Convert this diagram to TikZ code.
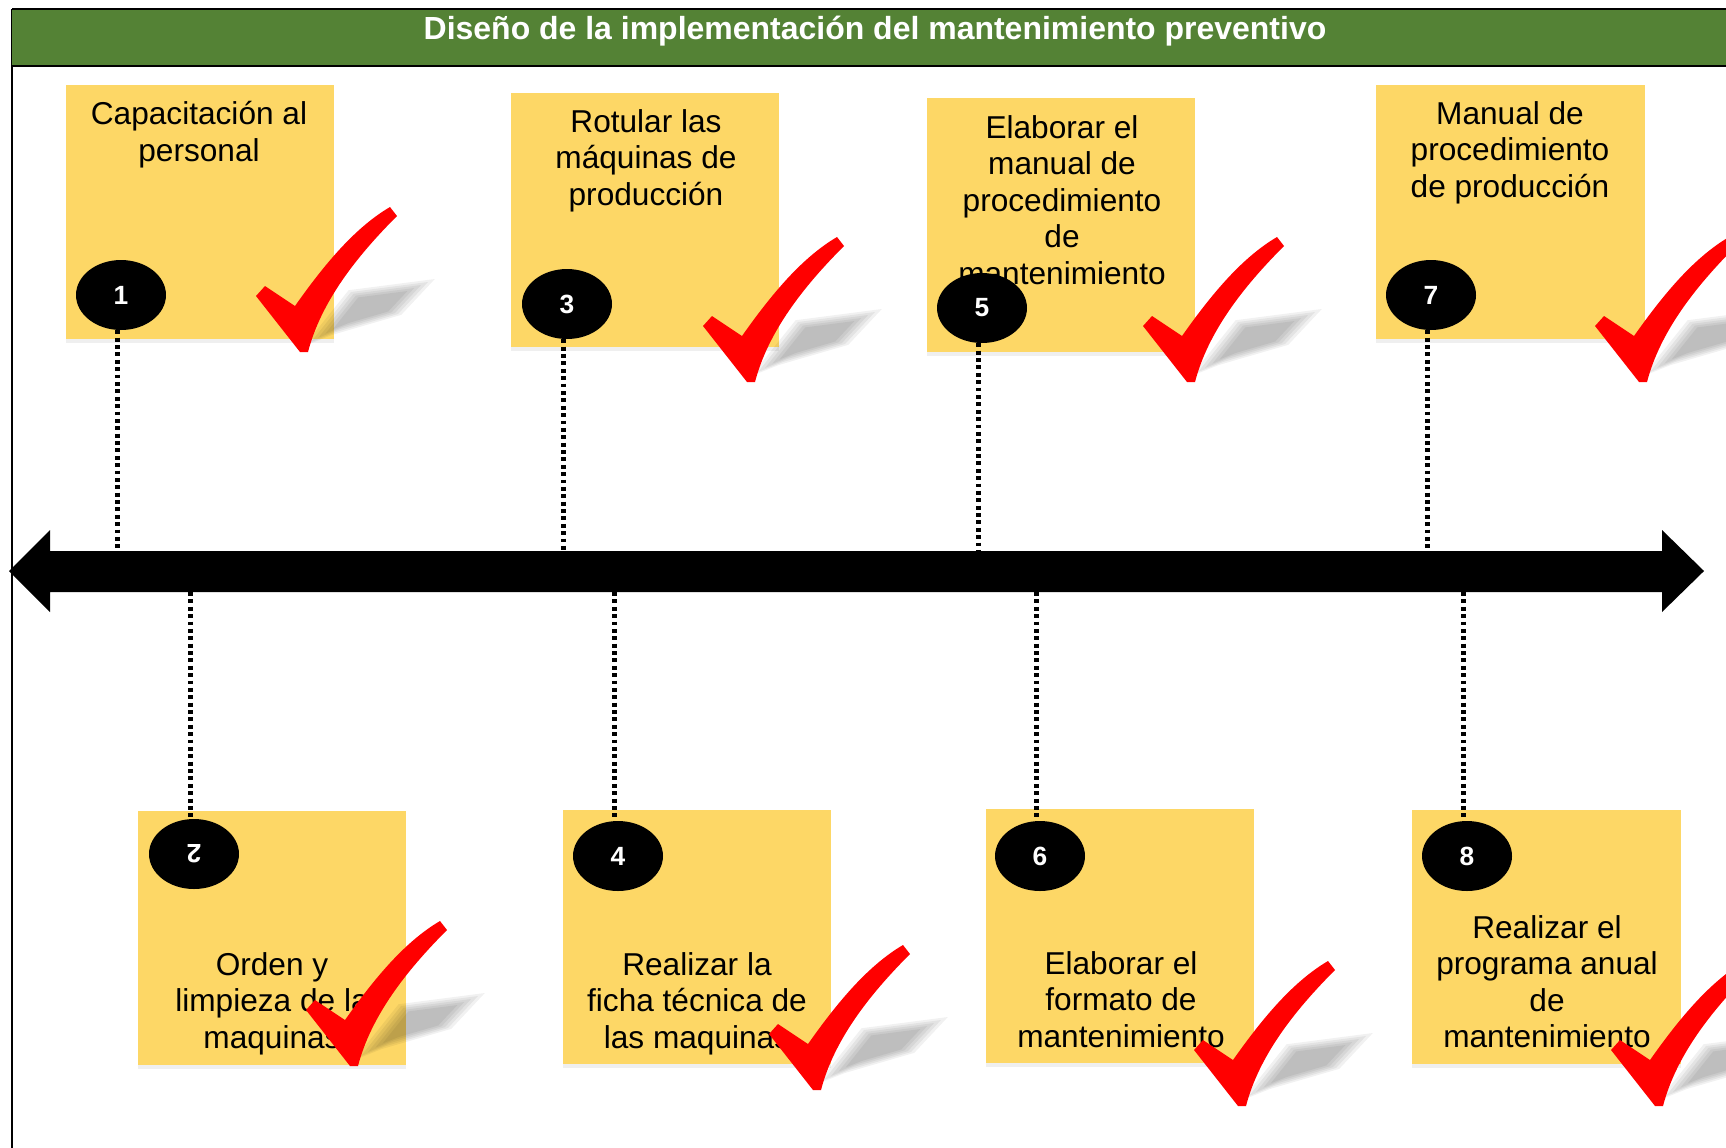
\documentclass[tikz,border=0pt]{standalone}
\usepackage{fontspec}
\setmainfont{Liberation Sans}
\usepackage{xcolor}
\usetikzlibrary{shapes.geometric}
\usetikzlibrary{shadows}

\definecolor{notecol}{RGB}{253,215,102}
\definecolor{titlecol}{RGB}{84,130,53}
\definecolor{tickred}{RGB}{255,0,0}

\tikzset{
  note/.style={rectangle, fill=notecol, minimum width=5.38cm, minimum height=5.1cm,
    inner sep=0pt, drop shadow={opacity=0.12, shadow xshift=0pt, shadow yshift=-2pt}},
  notetext/.style={align=center, inner sep=0pt, anchor=north,
    font=\fontsize{18}{20.8}\selectfont},
  num/.style={ellipse, fill=black, text=white, minimum width=1.8cm, minimum height=1.4cm,
    inner sep=0pt, font=\fontsize{15}{17}\selectfont\bfseries},
  dotline/.style={black, line width=2.3pt, dash pattern=on 2.2pt off 2pt},
}

% red tick with its shadow, placed at the bottom tip
\newcommand{\checkmk}[1]{%
  \begin{scope}[shift={#1}]
    \foreach \s in {1.12,1.0,0.88,0.76,0.64}
      \fill[black, opacity=0.055, scale around={\s:(65,-45)}]
        (5,-10) -- (45,-60) -- (122,-70) -- (92,-38) -- (30,-20) -- cycle;
    \fill[tickred] (-6,0) -- (-50,-56) -- (-41,-66) -- (-11,-46)
      .. controls (20,-90) and (50,-125) .. (84,-145) -- (91,-136)
      .. controls (50,-95) and (15,-50) .. (2,0) -- cycle;
  \end{scope}}

\begin{document}
\begin{tikzpicture}[x=0.02cm,y=-0.02cm]
  \useasboundingbox (0,0) rectangle (1726,1147);
  \clip (0,0) rectangle (1726,1147);

  % frame and title
  \fill[white] (0,0) rectangle (1726,1147);
  \draw[line width=1.1pt] (12,1160) -- (12,9);
  \fill[titlecol] (12,9) rectangle (1740,66);
  \draw[line width=1pt] (12,9) -- (1740,9);
  \draw[line width=1.6pt] (12,66) -- (1740,66);
  \node[text=white, font=\fontsize{18.2}{20}\selectfont\bfseries] (title) at (875,31)
    {Diseño de la implementación del mantenimiento preventivo};

  % time line
  \fill[black] (9,571) -- (50,530) -- (50,551) -- (1662,551) -- (1662,530) -- (1704,571)
    -- (1662,612) -- (1662,592) -- (50,592) -- (50,612) -- cycle;
  \coordinate (atop) at (0,551);
  \coordinate (abot) at (0,592);

  % notes
  \node[note] (n1) at (200,212) {};
  \node[note] (n3) at (645,220) {};
  \node[note] (n5) at (1061,225) {};
  \node[note] (n7) at (1510,212) {};
  \node[note] (n2) at (272,938) {};
  \node[note] (n4) at (697,937) {};
  \node[note] (n6) at (1120,936) {};
  \node[note] (n8) at (1546,937) {};

  \node[notetext] (t1) at (199,101) {Capacitación al\\personal};
  \node[notetext] (t3) at (646,109) {Rotular las\\máquinas de\\producción};
  \node[notetext] (t5) at (1062,115) {Elaborar el\\manual de\\procedimiento\\de\\mantenimiento};
  \node[notetext] (t7) at (1510,101) {Manual de\\procedimiento\\de producción};
  \node[notetext] (t2) at (272,952) {Orden y\\limpieza de la\\maquinas};
  \node[notetext] (t4) at (697,952) {Realizar la\\ficha técnica de\\las maquinas};
  \node[notetext] (t6) at (1121,951) {Elaborar el\\formato de\\mantenimiento};
  \node[notetext] (t8) at (1547,915) {Realizar el\\programa anual\\de\\mantenimiento};

  % numbers
  \node[num] (c1) at (121,295) {1};
  \node[num] (c3) at (567,304) {3};
  \node[num] (c5) at (982,308) {5};
  \node[num] (c7) at (1431,295) {7};
  \node[num, rotate=180] (c2) at (194,854) {2};
  \node[num] (c4) at (618,856) {4};
  \node[num] (c6) at (1040,856) {6};
  \node[num] (c8) at (1467,856) {8};

  % dotted links to the line
  \foreach \c in {c1,c3,c5,c7}
    \draw[dotline] ([xshift=-2pt]\c.south) -- ([xshift=-2pt]\c.south |- atop);
  \foreach \c in {c4,c6,c8}
    \draw[dotline] ([xshift=-2pt]abot -| \c.north) -- ([xshift=-2pt]\c.north);
  \draw[dotline] ([xshift=-2pt]abot -| c2.south) -- ([xshift=-2pt]c2.south);

  % ticks
  \checkmk{(306,352)}
  \checkmk{(753,382)}
  \checkmk{(1193,382)}
  \checkmk{(1645,382)}
  \checkmk{(356,1066)}
  \checkmk{(819,1090)}
  \checkmk{(1244,1106)}
  \checkmk{(1661,1106)}
\end{tikzpicture}
\end{document}
